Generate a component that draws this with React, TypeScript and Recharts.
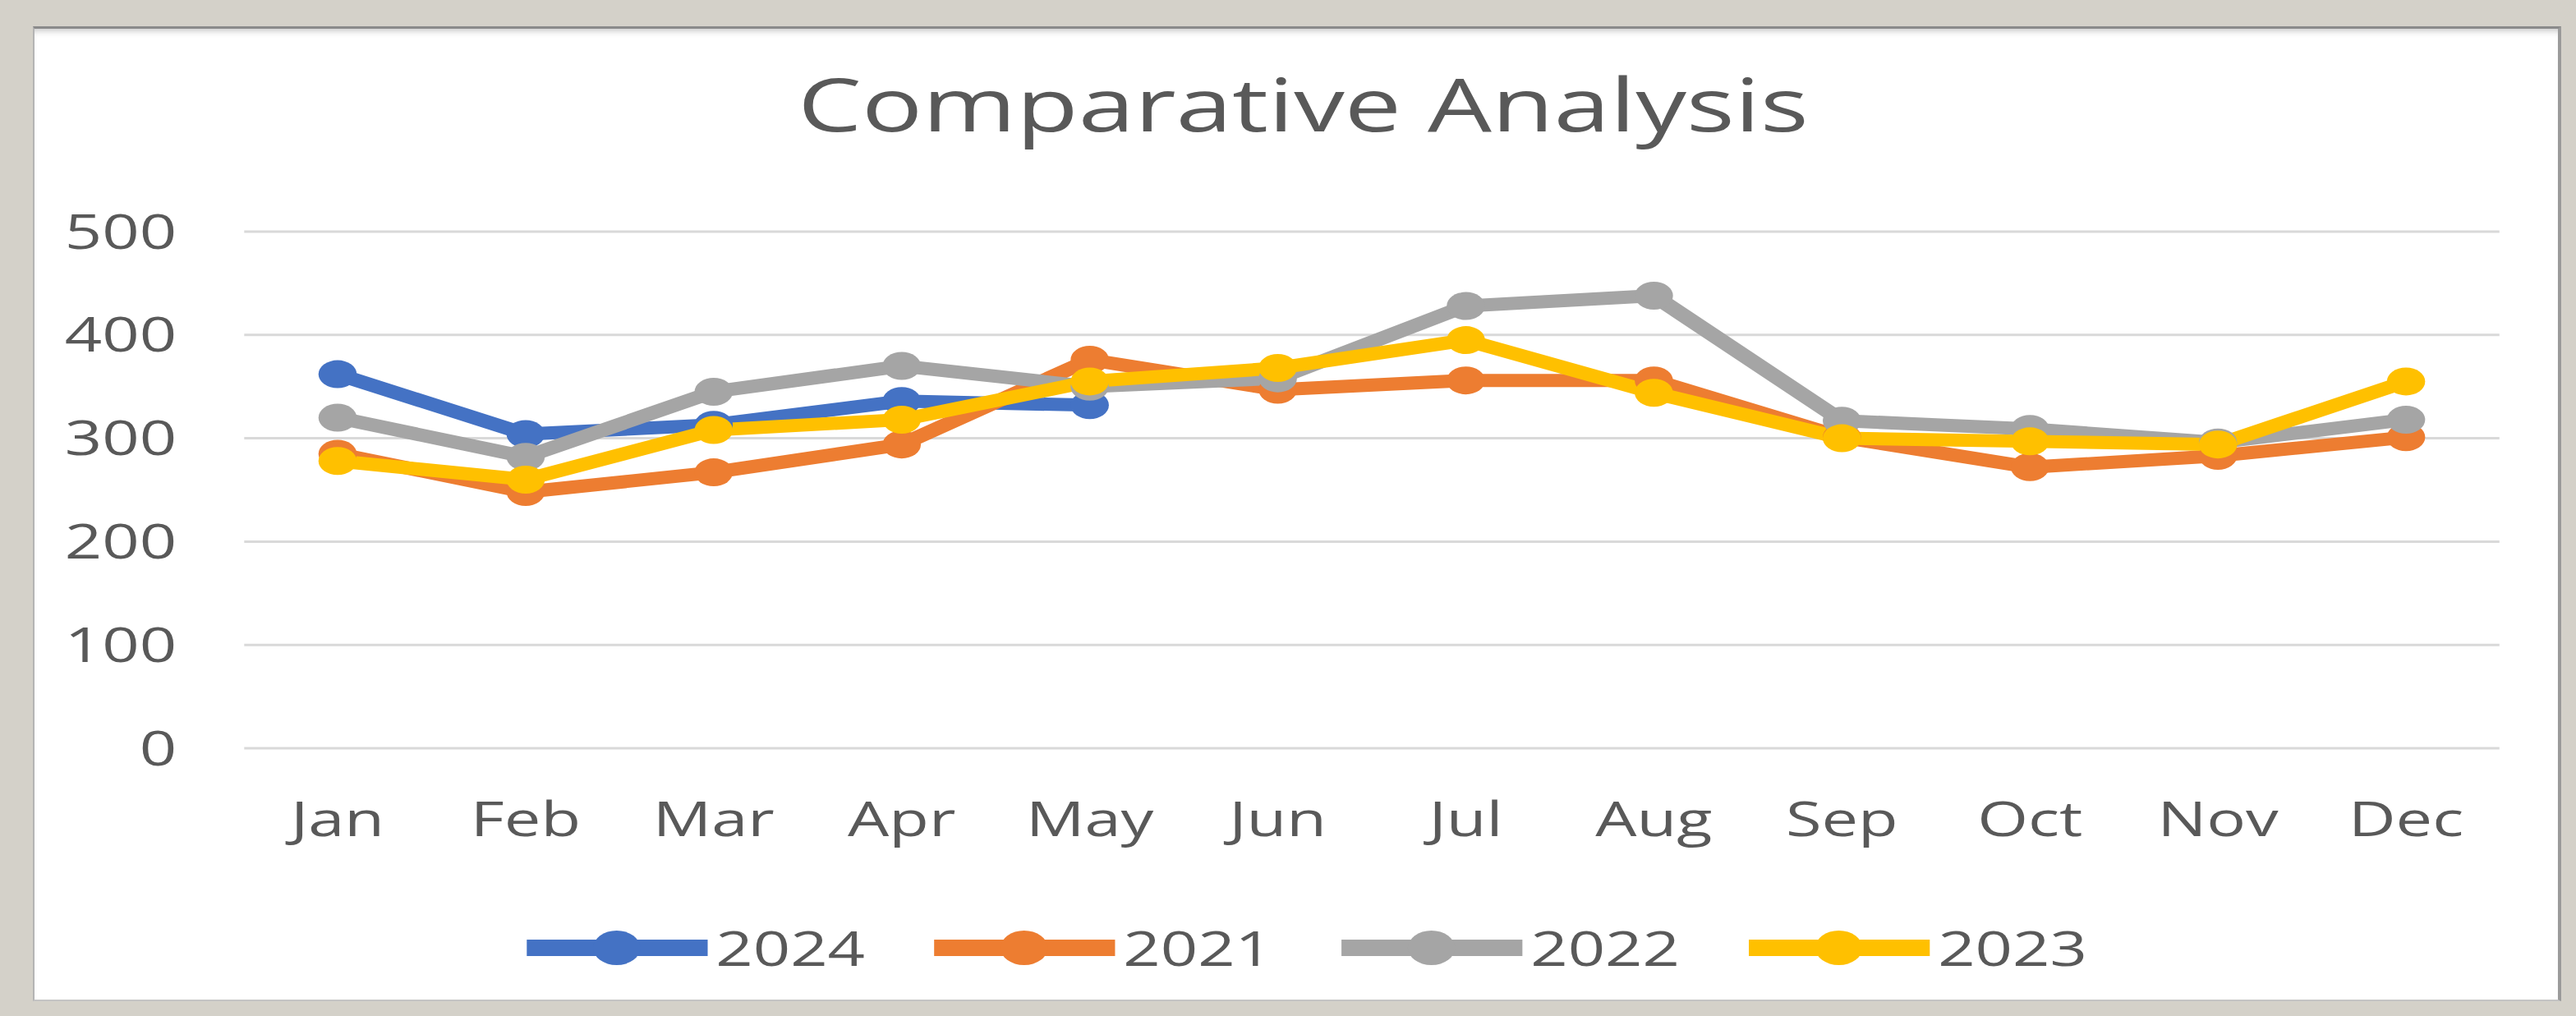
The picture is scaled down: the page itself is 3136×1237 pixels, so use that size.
import React from "react"
import { CartesianGrid, Line, LineChart, XAxis, YAxis } from "recharts"

const months = ["Jan", "Feb", "Mar", "Apr", "May", "Jun", "Jul", "Aug", "Sep", "Oct", "Nov", "Dec"]

const y2024 = [362, 304, 313, 336, 332, null, null, null, null, null, null, null]
const y2021 = [285, 248, 267, 294, 376, 347, 356, 356, 301, 272, 283, 301]
const y2022 = [320, 282, 345, 370, 350, 358, 428, 438, 317, 309, 296, 318]
const y2023 = [278, 260, 308, 318, 355, 368, 395, 344, 300, 297, 294, 355]

const yTicks = [0, 100, 200, 300, 400, 500]

const series = [
  { key: "2024", values: y2024, color: "#4472C4" },
  { key: "2021", values: y2021, color: "#ED7D31" },
  { key: "2022", values: y2022, color: "#A5A5A5" },
  { key: "2023", values: y2023, color: "#FFC000" },
]

const data = months.map((m, i) => {
  const row: Record<string, string | number | null> = { month: m }
  series.forEach((s) => {
    row[s.key] = s.values[i]
  })
  return row
})

// the reference is stretched sideways, so the chart is drawn narrow and scaled in x
const SX = 1.37
const W = Math.round(3136 / SX)
const FONT = "'Open Sans', sans-serif"
const TEXT = "#595959"

function LegendRow() {
  return (
    <div style={{ position: "absolute", left: 468, top: 1125, display: "flex", alignItems: "center" }}>
      {series.map((s) => (
        <div key={s.key} style={{ width: 362, display: "flex", alignItems: "center" }}>
          <svg width={161} height={44} style={{ display: "block" }}>
            <line x1={0} y1={22} x2={161} y2={22} stroke={s.color} strokeWidth={20} />
            <circle cx={80} cy={22} r={21} fill={s.color} />
          </svg>
          <span style={{ marginLeft: 7, fontSize: 58, lineHeight: "58px", fontFamily: FONT, color: TEXT }}>
            {s.key}
          </span>
        </div>
      ))}
    </div>
  )
}

export default function App() {
  return (
    <div style={{ position: "absolute", left: 0, top: 0, width: 3136, height: 1237, background: "#d4d1c9", overflow: "hidden" }}>
      <div
        style={{
          position: "absolute",
          left: 40,
          top: 32,
          width: 3118 - 40,
          height: 1219 - 32,
          background: "#ffffff",
          boxSizing: "border-box",
          borderTop: "3px solid #8a8a8a",
          borderLeft: "2px solid #b4b4b4",
          borderRight: "4px solid #9a9a9a",
          borderBottom: "2px solid #c4c4c4",
          boxShadow: "inset 0 8px 8px -6px rgba(0,0,0,0.25)",
        }}
      />
      <div style={{ position: "absolute", left: 0, top: 0, width: W, height: 1237, transform: `scaleX(${SX})`, transformOrigin: "0 0" }}>
        <div
          style={{
            position: "absolute",
            left: 458,
            top: 80,
            width: 1400,
            textAlign: "center",
            fontSize: 90,
            lineHeight: "90px",
            fontFamily: FONT,
            color: TEXT,
          }}
        >
          Comparative Analysis
        </div>
        <LineChart width={W} height={1237} data={data} margin={{ top: 282, right: 68, bottom: 246, left: 0 }}>
          <CartesianGrid vertical={false} stroke="#d9d9d9" strokeWidth={3} />
          <XAxis
            dataKey="month"
            axisLine={false}
            tickLine={false}
            height={80}
            tickMargin={60}
            padding={{ left: 83, right: 83 }}
            tick={{ fill: TEXT, fontSize: 58, fontFamily: FONT }}
            interval={0}
          />
          <YAxis
            domain={[0, 500]}
            ticks={yTicks}
            axisLine={false}
            tickLine={false}
            width={217}
            tickMargin={54}
            tick={{ fill: TEXT, fontSize: 58, fontFamily: FONT }}
          />
          {series.map((s) => (
            <Line
              key={s.key}
              dataKey={s.key}
              stroke={s.color}
              strokeWidth={16}
              type="linear"
              dot={{ r: 17, fill: s.color, stroke: s.color, strokeWidth: 0 }}
              activeDot={false}
              isAnimationActive={false}
            />
          ))}
        </LineChart>
        <LegendRow />
      </div>
    </div>
  )
}
